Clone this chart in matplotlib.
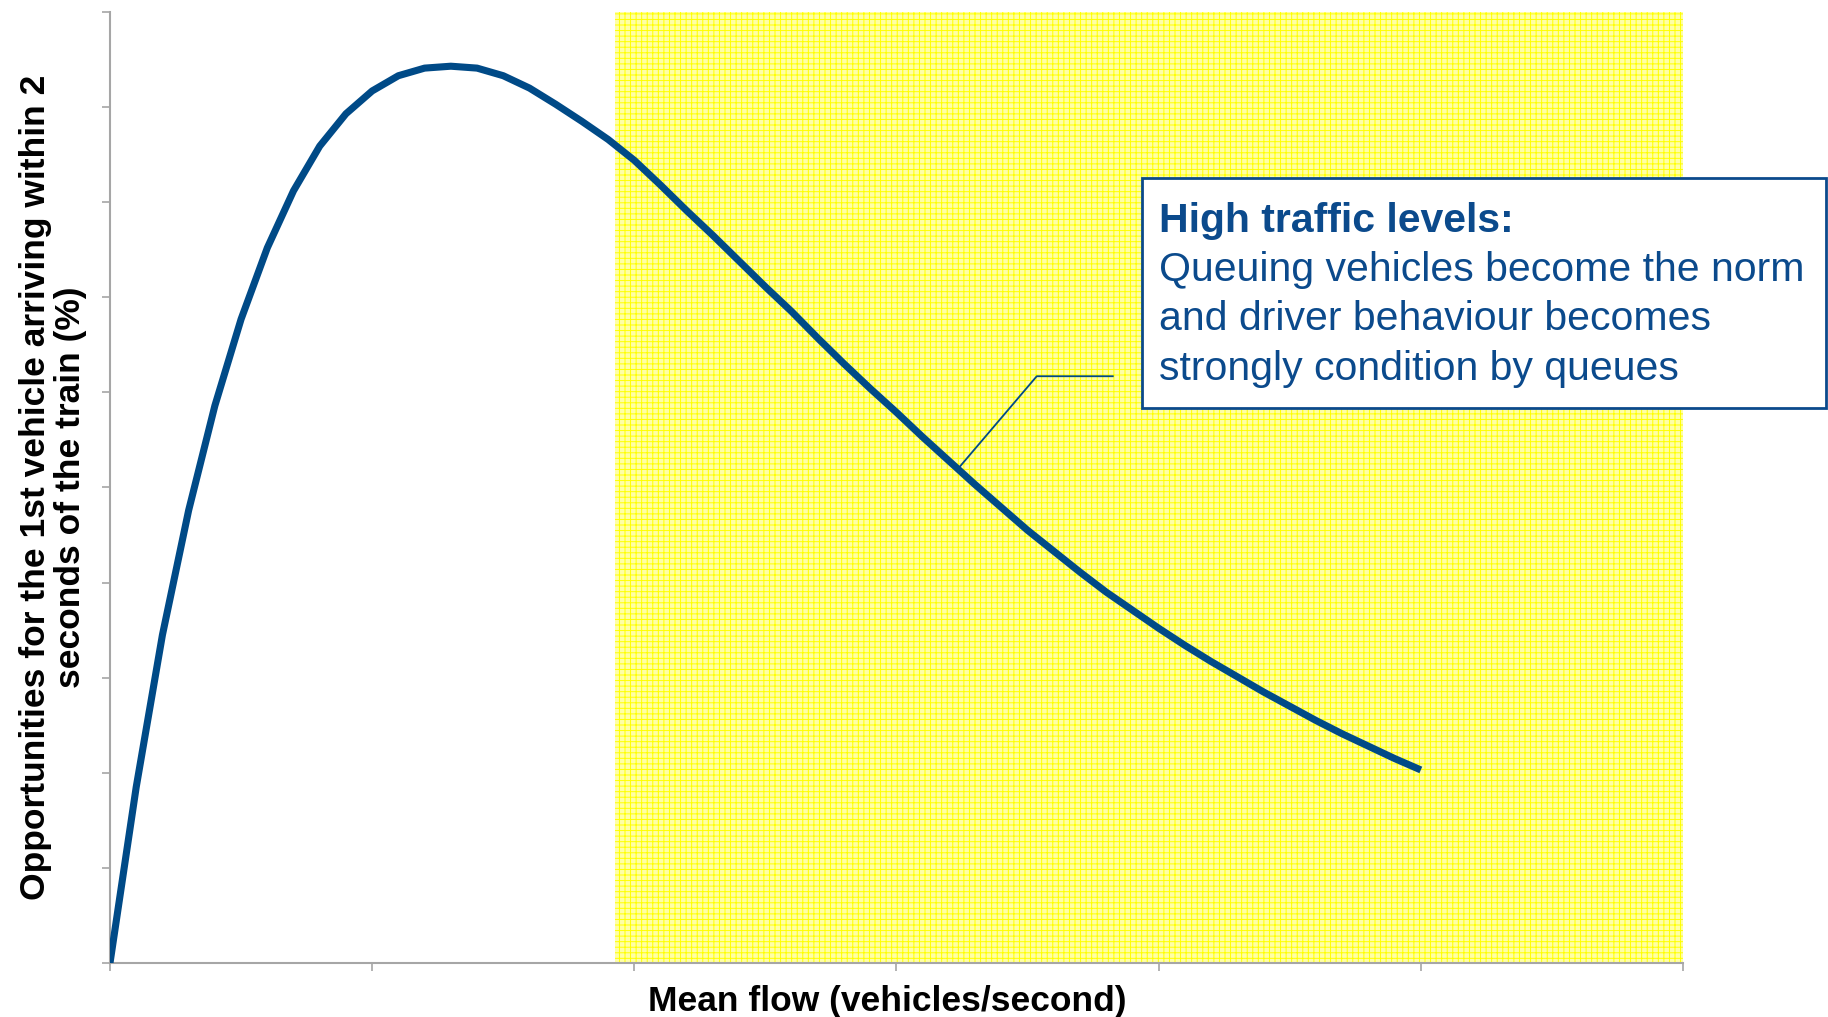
import matplotlib
matplotlib.use('Agg')
import numpy as np
from matplotlib import pyplot as plt
from matplotlib.patches import Rectangle

plt.rcParams['font.family'] = ['Liberation Sans', 'DejaVu Sans']
plt.rcParams['hatch.linewidth'] = 0.7

# Mean flow (x) and share of opportunities (y) along the curve
flow = [0.0, 0.1, 0.2, 0.3, 0.4, 0.5, 0.6, 0.7, 0.8, 0.9,
        1.0, 1.1, 1.2, 1.3, 1.4, 1.5, 1.6, 1.7, 1.8, 1.9,
        2.0, 2.1, 2.2, 2.3, 2.4, 2.5, 2.6, 2.7, 2.8, 2.9,
        3.0, 3.1, 3.2, 3.3, 3.4, 3.5, 3.6, 3.7, 3.8, 3.9,
        4.0, 4.1, 4.2, 4.3, 4.4, 4.5, 4.6, 4.7, 4.8, 4.9, 5.0]
opportunities = [0.00, 1.85, 3.45, 4.76, 5.86, 6.77, 7.52, 8.12, 8.59, 8.93,
                 9.17, 9.33, 9.41, 9.43, 9.41, 9.33, 9.20, 9.03, 8.85, 8.66,
                 8.44, 8.18, 7.91, 7.65, 7.38, 7.11, 6.85, 6.57, 6.30, 6.04,
                 5.79, 5.53, 5.28, 5.03, 4.79, 4.55, 4.33, 4.11, 3.90, 3.71,
                 3.52, 3.34, 3.17, 3.01, 2.85, 2.70, 2.55, 2.41, 2.28, 2.15, 2.03]

# high traffic zone and the point the callout refers to
zone_start, zone_end = 1.926, 6.0
callout_flow = 3.234

box_title = "High traffic levels:"
box_lines = ["Queuing vehicles become the norm",
             "and driver behaviour becomes",
             "strongly condition by queues"]

blue = '#004A87'
text_blue = '#0B4A8C'
axis_grey = '#A6A6A6'

fig = plt.figure(figsize=(18.28, 10.17), dpi=100)
ax = fig.add_axes([110 / 1828, 54 / 1017, 1573 / 1828, 951 / 1017])

# shaded zone with a fine yellow grid texture
ax.axvspan(zone_start, zone_end, facecolor='#FFFFA6', edgecolor='#FFFF00',
           hatch='+++', linewidth=0, zorder=0)

ax.plot(flow, opportunities, color=blue, linewidth=5.1,
        solid_capstyle='butt', solid_joinstyle='round', zorder=3)

ax.set_xlim(0, 6)
ax.set_ylim(0, 10)
ax.set_xticks(range(0, 7))
ax.set_yticks(range(0, 11))
ax.tick_params(axis='both', length=6, width=1.2, color=axis_grey,
               labelbottom=False, labelleft=False, direction='out')
for side in ['top', 'right']:
    ax.spines[side].set_visible(False)
for side in ['left', 'bottom']:
    ax.spines[side].set_color(axis_grey)
    ax.spines[side].set_linewidth(1.5)
ax.patch.set_alpha(0)

# leader line from the curve to the callout box
callout_y = np.interp(callout_flow, flow, opportunities)
ax.plot([callout_flow, 3.535, 3.825], [callout_y, 6.17, 6.17],
        color=blue, linewidth=1.3, zorder=4, clip_on=False)

# callout box, reaching past the plot area
box = Rectangle((1142 / 1828, 1 - 408 / 1017), 684 / 1828, 230 / 1017,
                transform=fig.transFigure, facecolor='white',
                edgecolor=text_blue, linewidth=2, zorder=5)
fig.patches.append(box)
fig.text(1159 / 1828, 1 - 232 / 1017, box_title, color=text_blue,
         fontsize=29.5, fontweight='bold', va='baseline', zorder=6)
for i, line in enumerate(box_lines):
    fig.text(1159 / 1828, 1 - (281 + 49.5 * i) / 1017, line, color=text_blue,
             fontsize=29.5, va='baseline', zorder=6)

# axis titles
fig.text(887 / 1828, 1 - 1001 / 1017, "Mean flow (vehicles/second)",
         fontsize=25.5, fontweight='bold', ha='center', va='center')
fig.text(53 / 1828, 1 - 487 / 1017,
         "Opportunities for the 1st vehicle arriving within 2\nseconds of the train (%)",
         fontsize=25.5, fontweight='bold', ha='center', va='center',
         rotation=90, multialignment='center', linespacing=1.1)

fig.savefig('out.png', dpi=100)
